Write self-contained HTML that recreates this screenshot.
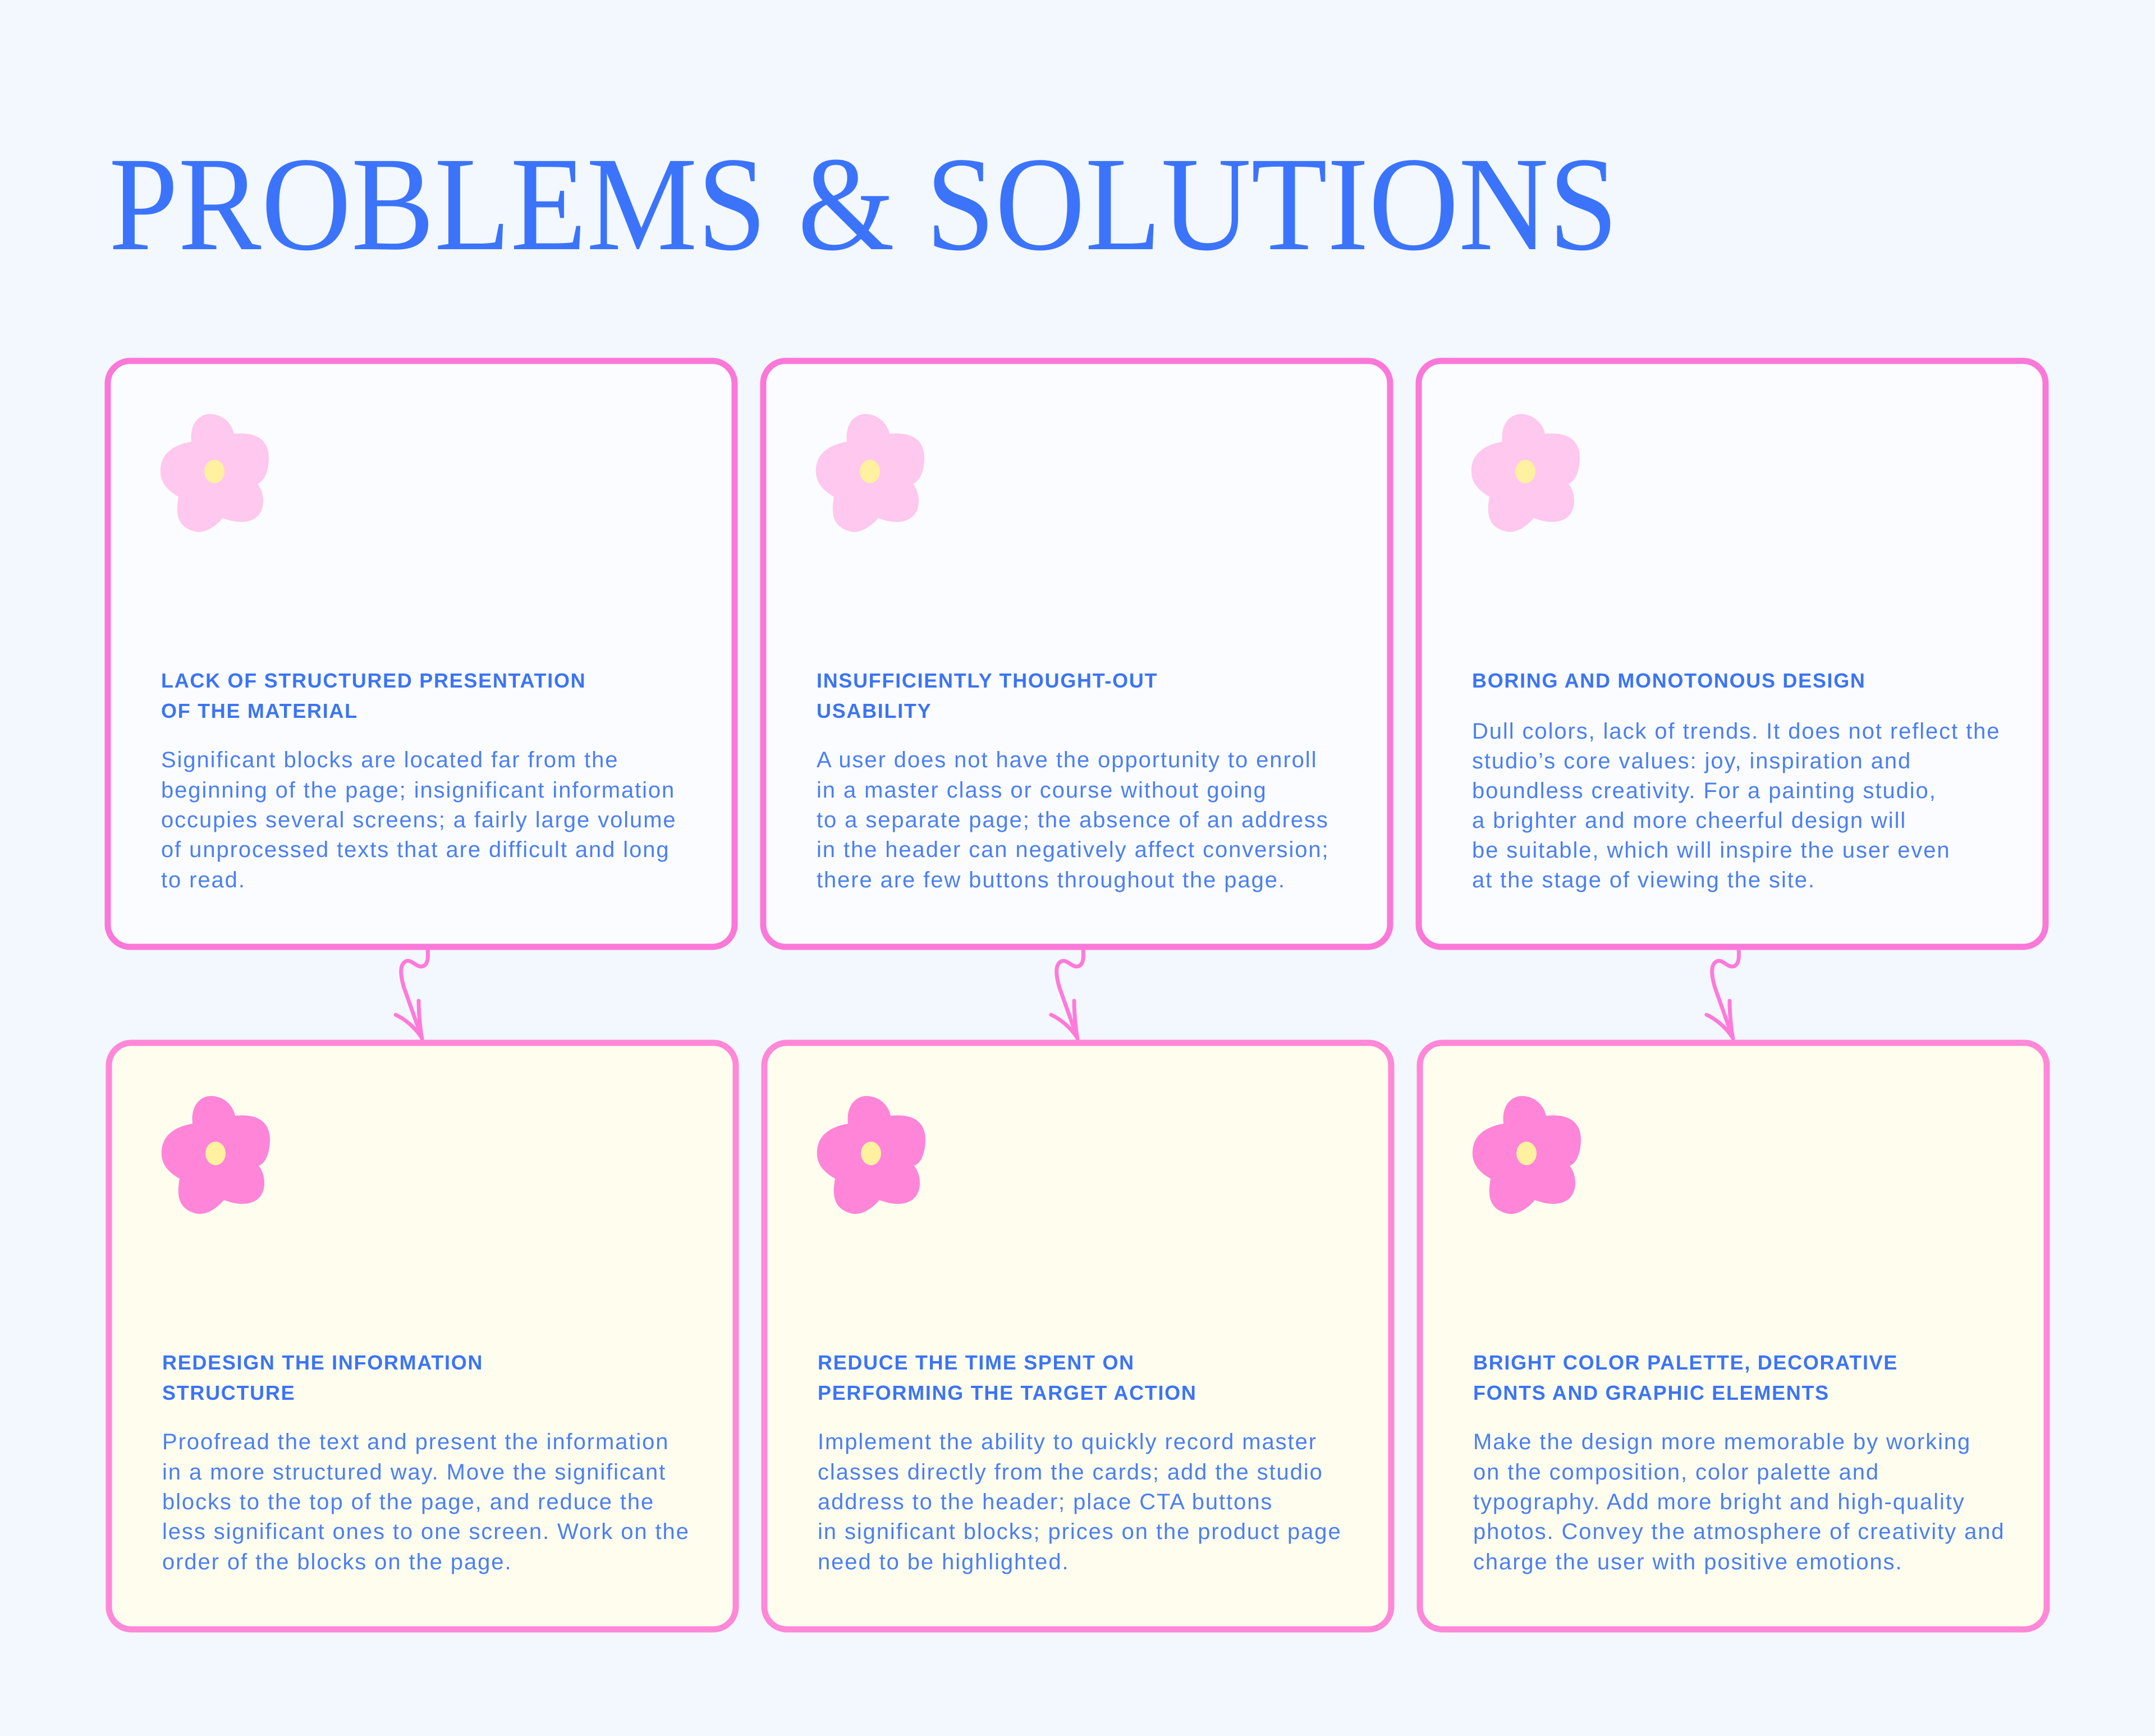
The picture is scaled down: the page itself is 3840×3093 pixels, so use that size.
<!DOCTYPE html>
<html><head><meta charset="utf-8"><style>
html,body{margin:0;padding:0;background:#f3f7fe;}
svg{display:block}
.t{font-family:"Liberation Sans",sans-serif;font-weight:bold;font-size:36px;letter-spacing:1.7px;fill:#3b74f6}
.b{font-family:"Liberation Sans",sans-serif;font-size:40px;letter-spacing:1.9px;fill:#4a7ff4}
.h{font-family:"Liberation Serif",serif;font-size:240px;fill:#3b74fb}
</style></head><body>
<svg width="3840" height="3093" viewBox="0 0 3840 3093" xmlns="http://www.w3.org/2000/svg">
<defs>
<path id="fl" d="M -41,-56 C -45,-95 -20,-108 -3,-105 C 20,-102 32,-85 35,-70 C 80,-75 98,-55 97,-25 C 96,0 88,15 77,19 C 92,38 92,75 65,84 C 50,90 30,86 15,80 C 0,98 -20,108 -35,104 C -65,96 -70,75 -64,42 C -85,30 -98,15 -96,-8 C -94,-40 -65,-52 -41,-56 Z"/>
<g id="arr" fill="none" stroke="#ff7ad9" stroke-width="7" stroke-linecap="round" stroke-linejoin="round">
<path d="M 762,1692 C 764,1712 760,1722 750,1722 C 740,1722 730,1705 720,1715 C 712,1722 714,1740 720,1760 L 752,1850"/>
<path d="M 705,1808 C 720,1815 740,1830 752,1850 C 748,1830 746,1800 746,1783"/>
</g>
</defs>
<rect width="3840" height="3093" fill="#f3f7fe"/>
<text class="h" x="194" y="444" textLength="2689" lengthAdjust="spacingAndGlyphs">PROBLEMS &amp; SOLUTIONS</text>

<g fill="#fbfcff" stroke="#fa78d8" stroke-width="11">
<rect x="192" y="643" width="1117" height="1044" rx="40"/>
<rect x="1360" y="643" width="1117" height="1044" rx="40"/>
<rect x="2528" y="643" width="1117" height="1044" rx="40"/>
</g>
<g fill="#fffdee" stroke="#ff88d8" stroke-width="11">
<rect x="194" y="1858" width="1117" height="1045" rx="40"/>
<rect x="1362" y="1858" width="1117" height="1045" rx="40"/>
<rect x="2530" y="1858" width="1117" height="1045" rx="40"/>
</g>

<g fill="#ffc8ee">
<use href="#fl" x="382" y="843"/><use href="#fl" x="1550" y="843"/><use href="#fl" x="2718" y="843"/>
</g>
<g fill="#ff85d8">
<use href="#fl" x="384" y="2058"/><use href="#fl" x="1552" y="2058"/><use href="#fl" x="2720" y="2058"/>
</g>
<g fill="#fff1a0">
<ellipse cx="382" cy="840" rx="18" ry="21"/><ellipse cx="1550" cy="840" rx="18" ry="21"/><ellipse cx="2718" cy="840" rx="18" ry="21"/>
<ellipse cx="384" cy="2055" rx="18" ry="21"/><ellipse cx="1552" cy="2055" rx="18" ry="21"/><ellipse cx="2720" cy="2055" rx="18" ry="21"/>
</g>

<use href="#arr"/><use href="#arr" x="1168"/><use href="#arr" x="2336"/>

<text class="t" x="287" y="1225">LACK OF STRUCTURED PRESENTATION</text>
<text class="t" x="287" y="1279">OF THE MATERIAL</text>
<g class="b">
<text x="287" y="1367">Significant blocks are located far from the</text>
<text x="287" y="1421">beginning of the page; insignificant information</text>
<text x="287" y="1474">occupies several screens; a fairly large volume</text>
<text x="287" y="1527">of unprocessed texts that are difficult and long</text>
<text x="287" y="1581">to read.</text>
</g>
<text class="t" x="1455" y="1225">INSUFFICIENTLY THOUGHT-OUT</text>
<text class="t" x="1455" y="1279">USABILITY</text>
<g class="b">
<text x="1455" y="1367">A user does not have the opportunity to enroll</text>
<text x="1455" y="1421">in a master class or course without going</text>
<text x="1455" y="1474">to a separate page; the absence of an address</text>
<text x="1455" y="1527">in the header can negatively affect conversion;</text>
<text x="1455" y="1581">there are few buttons throughout the page.</text>
</g>
<text class="t" x="2623" y="1225">BORING AND MONOTONOUS DESIGN</text>
<g class="b">
<text x="2623" y="1316">Dull colors, lack of trends. It does not reflect the</text>
<text x="2623" y="1369">studio’s core values: joy, inspiration and</text>
<text x="2623" y="1422">boundless creativity. For a painting studio,</text>
<text x="2623" y="1475">a brighter and more cheerful design will</text>
<text x="2623" y="1528">be suitable, which will inspire the user even</text>
<text x="2623" y="1581">at the stage of viewing the site.</text>
</g>

<text class="t" x="289" y="2440">REDESIGN THE INFORMATION</text>
<text class="t" x="289" y="2494">STRUCTURE</text>
<g class="b">
<text x="289" y="2582">Proofread the text and present the information</text>
<text x="289" y="2636">in a more structured way. Move the significant</text>
<text x="289" y="2689">blocks to the top of the page, and reduce the</text>
<text x="289" y="2742">less significant ones to one screen. Work on the</text>
<text x="289" y="2796">order of the blocks on the page.</text>
</g>
<text class="t" x="1457" y="2440">REDUCE THE TIME SPENT ON</text>
<text class="t" x="1457" y="2494">PERFORMING THE TARGET ACTION</text>
<g class="b">
<text x="1457" y="2582">Implement the ability to quickly record master</text>
<text x="1457" y="2636">classes directly from the cards; add the studio</text>
<text x="1457" y="2689">address to the header; place CTA buttons</text>
<text x="1457" y="2742">in significant blocks; prices on the product page</text>
<text x="1457" y="2796">need to be highlighted.</text>
</g>
<text class="t" x="2625" y="2440">BRIGHT COLOR PALETTE, DECORATIVE</text>
<text class="t" x="2625" y="2494">FONTS AND GRAPHIC ELEMENTS</text>
<g class="b">
<text x="2625" y="2582">Make the design more memorable by working</text>
<text x="2625" y="2636">on the composition, color palette and</text>
<text x="2625" y="2689">typography. Add more bright and high-quality</text>
<text x="2625" y="2742">photos. Convey the atmosphere of creativity and</text>
<text x="2625" y="2796">charge the user with positive emotions.</text>
</g>
</svg>
</body></html>
